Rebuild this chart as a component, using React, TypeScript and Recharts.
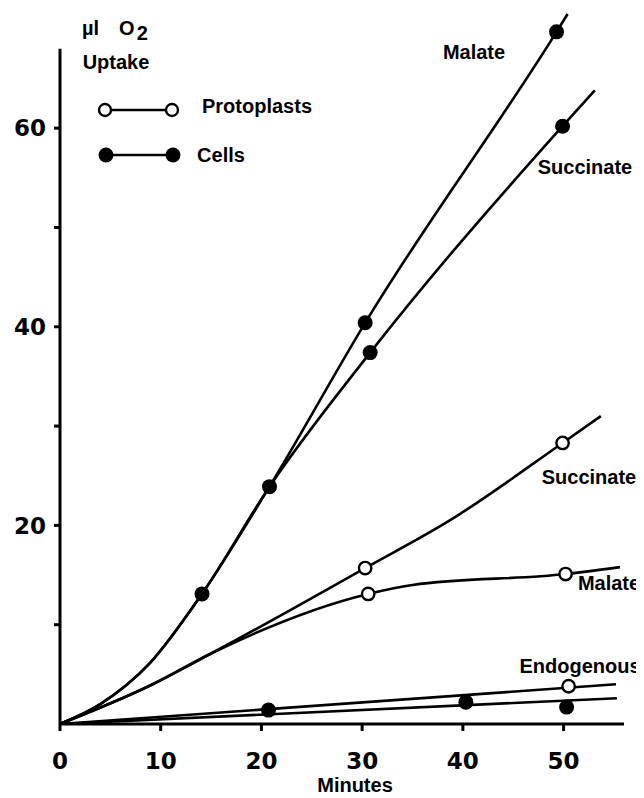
import { ComposedChart, Line, ReferenceLine, Scatter, XAxis, YAxis } from "recharts";

// [minutes, µl O2]
const cellsMalateCurve = [[0, 0], [4, 2.0], [8.9, 6.1], [14.1, 13.1], [20.8, 23.9], [30.3, 40.4], [49.3, 69.7], [50.4, 71.5]];
const cellsSuccinateCurve = [[0, 0], [4, 2.0], [8.9, 6.1], [14.1, 13.1], [20.8, 23.9], [30.8, 37.4], [49.9, 60.2], [53.1, 63.8]];
const protoSuccinateCurve = [[0, 0], [9, 3.9], [15, 7.1], [30.3, 15.7], [38.7, 20.5], [49.9, 28.3], [53.7, 31.0]];
const protoMalateCurve = [[0, 0], [9, 3.9], [15, 7.1], [30.6, 13.1], [35, 14.0], [50.2, 15.1], [55.6, 15.8]];
const protoEndoCurve = [[0, 0], [55.2, 4.0]];
const cellsEndoCurve = [[0, 0], [55.3, 2.6]];

// measured points
const cellsMalatePoints = [[14.1, 13.1], [20.8, 23.9], [30.3, 40.4], [49.3, 69.7]];
const cellsSuccinatePoints = [[30.8, 37.4], [49.9, 60.2]];
const cellsEndoPoints = [[20.7, 1.4], [40.3, 2.2], [50.3, 1.7]];
const protoSuccinatePoints = [[30.3, 15.7], [49.9, 28.3]];
const protoMalatePoints = [[30.6, 13.1], [50.2, 15.1]];
const protoEndoPoints = [[50.5, 3.8]];

const xTicks = [0, 10, 20, 30, 40, 50];
const yTicks = [10, 20, 30, 40, 50, 60];

const toXY = (pts: number[][]) => pts.map(([x, y]) => ({ x, y }));

const curves = [cellsMalateCurve, cellsSuccinateCurve, protoSuccinateCurve, protoMalateCurve, protoEndoCurve, cellsEndoCurve];
const filledSets = [cellsMalatePoints, cellsSuccinatePoints, cellsEndoPoints];
const openSets = [protoSuccinatePoints, protoMalatePoints, protoEndoPoints];

const FilledDot = (p: any) => <circle cx={p.cx} cy={p.cy} r={7.5} fill="#000" />;
const OpenDot = (p: any) => <circle cx={p.cx} cy={p.cy} r={6.2} fill="#fff" stroke="#000" strokeWidth={2.4} />;

const labelFont = { fontFamily: "'Liberation Sans', Arial, sans-serif", fontWeight: 700, fontSize: 20, color: "#000" };
const tickFont = { fill: "#000", fontSize: 23, fontWeight: 700, fontFamily: "'DejaVu Sans', sans-serif" };

function Tag({ x, y, children }: { x: number; y: number; children: any }) {
  return (
    <div
      style={{
        ...labelFont,
        position: "absolute",
        left: x,
        top: y,
        transform: "translate(-50%, -50%)",
        lineHeight: "20px",
        whiteSpace: "nowrap",
      }}
    >
      {children}
    </div>
  );
}

export default function App() {
  return (
    <div style={{ position: "relative", width: 636, height: 790, background: "#fff" }}>
      <ComposedChart width={636} height={790} margin={{ top: 1, right: 20, bottom: 0, left: 0 }}>
        <XAxis
          type="number"
          dataKey="x"
          domain={[0, 56]}
          ticks={xTicks}
          allowDataOverflow
          height={74}
          tickSize={7}
          tickMargin={22}
          stroke="#000"
          strokeWidth={3}
          tick={tickFont}
        />
        <YAxis
          type="number"
          dataKey="y"
          domain={[0, 72]}
          ticks={yTicks}
          allowDataOverflow
          width={52}
          axisLine={false}
          tickSize={6}
          tickMargin={8}
          stroke="#000"
          strokeWidth={3}
          tickFormatter={(v: number) => (v % 20 === 0 ? String(v) : "")}
          tick={tickFont}
        />
        <ReferenceLine segment={[{ x: 0, y: 0 }, { x: 0, y: 68 }]} stroke="#000" strokeWidth={3} />
        {curves.map((c, i) => (
          <Line
            key={"c" + i}
            data={toXY(c)}
            dataKey="y"
            type="monotone"
            dot={false}
            stroke="#000"
            strokeWidth={2.6}
            isAnimationActive={false}
          />
        ))}
        {filledSets.map((s, i) => (
          <Scatter key={"f" + i} data={toXY(s)} dataKey="y" shape={FilledDot} isAnimationActive={false} />
        ))}
        {openSets.map((s, i) => (
          <Scatter key={"o" + i} data={toXY(s)} dataKey="y" shape={OpenDot} isAnimationActive={false} />
        ))}
      </ComposedChart>

      {/* axis titles */}
      <div style={{ ...labelFont, position: "absolute", left: 74, top: 8, lineHeight: "24px", whiteSpace: "nowrap" }}>
        <span>µl</span>
        <span style={{ marginLeft: 20 }}>O</span>
        <span style={{ position: "relative", top: 5, marginLeft: 2 }}>2</span>
      </div>
      <Tag x={108} y={54}>Uptake</Tag>
      <Tag x={347} y={777}>Minutes</Tag>

      {/* legend */}
      <svg width={200} height={80} style={{ position: "absolute", left: 80, top: 85, overflow: "visible" }}>
        <line x1={17} y1={17} x2={84} y2={17} stroke="#000" strokeWidth={2.4} />
        <circle cx={17} cy={17} r={6} fill="#fff" stroke="#000" strokeWidth={2.4} />
        <circle cx={84} cy={17} r={6} fill="#fff" stroke="#000" strokeWidth={2.4} />
        <line x1={18} y1={62} x2={85} y2={62} stroke="#000" strokeWidth={2.6} />
        <circle cx={18} cy={62} r={7.5} fill="#000" />
        <circle cx={85} cy={62} r={7.5} fill="#000" />
      </svg>
      <Tag x={249} y={98}>Protoplasts</Tag>
      <Tag x={213} y={147}>Cells</Tag>

      {/* curve labels */}
      <Tag x={466} y={44}>Malate</Tag>
      <Tag x={577} y={159}>Succinate</Tag>
      <Tag x={581} y={469}>Succinate</Tag>
      <Tag x={601} y={575}>Malate</Tag>
      <Tag x={572} y={658}>Endogenous</Tag>
    </div>
  );
}
